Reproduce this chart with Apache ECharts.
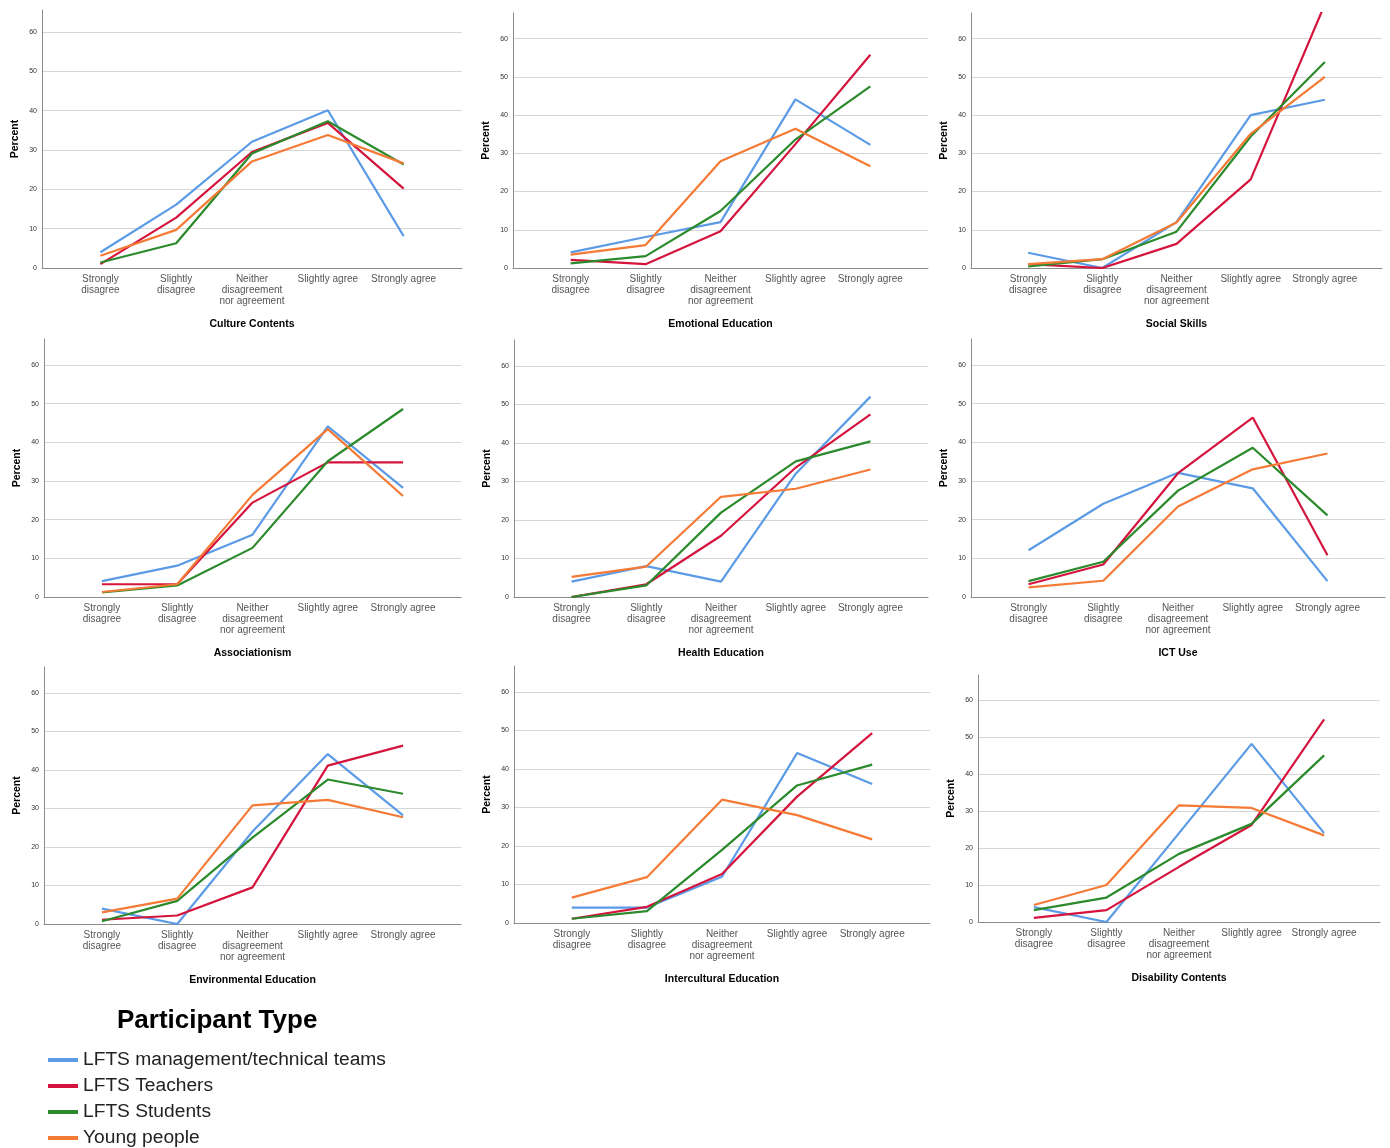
<!DOCTYPE html>
<html>
<head>
<meta charset="utf-8">
<script src="https://cdn.jsdelivr.net/npm/echarts@6/dist/echarts.min.js"></script>
<style>
html,body{margin:0;padding:0;background:#fff;}
#chart{width:1390px;height:1148px;}
</style>
</head>
<body>
<div id="chart"></div>
<script>
// ---- Data ----
const categories = ['Strongly\ndisagree', 'Slightly\ndisagree', 'Neither\ndisagreement\nnor agreement', 'Slightly agree', 'Strongly agree'];
const groups = ['LFTS management/technical teams', 'LFTS Teachers', 'LFTS Students', 'Young people'];
const yTicks = [0, 10, 20, 30, 40, 50, 60];
const panelTitles = ['Culture Contents', 'Emotional Education', 'Social Skills', 'Associationism', 'Health Education', 'ICT Use', 'Environmental Education', 'Intercultural Education', 'Disability Contents'];

// rows: management, teachers, students, young people
const cultureContents = [
  [4.0, 16.1, 32.1, 40.1, 8.1],
  [1.0, 12.8, 29.5, 36.9, 20.2],
  [1.4, 6.3, 29.1, 37.3, 26.3],
  [3.1, 9.7, 27.1, 33.8, 26.6]
];
const emotionalEducation = [
  [4.1, 8.1, 12.0, 44.1, 32.2],
  [2.1, 1.0, 9.6, 32.4, 55.8],
  [1.2, 3.1, 14.9, 33.6, 47.5],
  [3.5, 6.0, 27.9, 36.4, 26.6]
];
const socialSkills = [
  [4.0, 0.0, 12.0, 40.0, 44.0],
  [1.0, 0.0, 6.3, 23.2, 69.0],
  [0.4, 2.3, 9.5, 34.4, 53.9],
  [1.0, 2.3, 11.9, 35.1, 50.0]
];
const associationism = [
  [4.1, 8.1, 16.1, 44.1, 28.2],
  [3.3, 3.3, 24.4, 34.8, 34.8],
  [1.2, 3.0, 12.7, 35.1, 48.6],
  [1.3, 3.3, 26.4, 43.4, 26.1]
];
const healthEducation = [
  [4.0, 8.0, 4.0, 32.0, 52.0],
  [0.0, 3.3, 15.9, 33.6, 47.4],
  [0.0, 3.0, 21.9, 35.2, 40.4],
  [5.2, 7.9, 26.0, 28.1, 33.1]
];
const ictUse = [
  [12.1, 24.1, 32.1, 28.1, 4.1],
  [3.3, 8.4, 32.0, 46.4, 10.8],
  [4.1, 9.1, 27.5, 38.6, 21.1],
  [2.5, 4.2, 23.4, 33.0, 37.1]
];
const environmentalEducation = [
  [4.0, 0.0, 24.0, 44.1, 28.2],
  [1.1, 2.2, 9.5, 41.1, 46.3],
  [0.7, 6.0, 22.4, 37.5, 33.8],
  [3.0, 6.6, 30.8, 32.2, 27.7]
];
const interculturalEducation = [
  [4.0, 4.0, 12.0, 44.1, 36.1],
  [1.1, 4.2, 12.7, 32.8, 49.3],
  [1.1, 3.1, 19.0, 35.7, 41.1],
  [6.6, 11.9, 32.0, 28.0, 21.7]
];
const disabilityContents = [
  [4.0, 0.0, 24.0, 48.1, 24.0],
  [1.1, 3.2, 14.9, 26.2, 54.7],
  [3.2, 6.6, 18.4, 26.5, 45.0],
  [4.6, 10.0, 31.5, 30.8, 23.4]
];
const panelData = [cultureContents, emotionalEducation, socialSkills, associationism, healthEducation, ictUse, environmentalEducation, interculturalEducation, disabilityContents];
const yMaxes = [65.6, 66.7, 66.7, 66.7, 66.7, 66.7, 66.7, 66.7, 66.7];

// ---- Layout / style ----
const colors = ['#5b9be6', '#d5143e', '#2b8a2b', '#f47a36'];
const panelBoxes = [
  [42, 10, 462, 268], [513, 13, 928, 268], [971, 13, 1382, 268],
  [44, 339, 461, 597], [514, 340, 928, 597], [971, 339, 1385, 597],
  [44, 667, 461, 924], [514, 666, 930, 923], [978, 675, 1380, 922]
];
const xPad = 0.77;
const FONT = '"Liberation Sans", Arial, sans-serif';

const grids = [], xAxes = [], yAxes = [], series = [];
panelBoxes.forEach((b, i) => {
  grids.push({left: b[0], top: b[1], width: b[2] - b[0], height: b[3] - b[1], containLabel: false});
  xAxes.push({
    type: 'value', gridIndex: i, min: -xPad, max: categories.length - 1 + xPad,
    name: panelTitles[i], nameLocation: 'middle', nameGap: 51,
    nameTextStyle: {fontFamily: FONT, fontSize: 10.5, fontWeight: 'bold', color: '#000'},
    axisLine: {show: true, onZero: false, lineStyle: {color: '#8c8c8c', width: 1}},
    axisTick: {show: false, customValues: categories.map((c, j) => j)},
    splitLine: {show: false},
    axisLabel: {
      customValues: categories.map((c, j) => j),
      formatter: v => categories[Math.round(v)],
      fontFamily: FONT, fontSize: 10, lineHeight: 11, color: '#555', margin: 6
    }
  });
  yAxes.push({
    type: 'value', gridIndex: i, min: 0, max: yMaxes[i],
    name: 'Percent', nameLocation: 'middle', nameGap: 21,
    nameTextStyle: {fontFamily: FONT, fontSize: 10.5, fontWeight: 'bold', color: '#000'},
    axisLine: {show: true, onZero: false, lineStyle: {color: '#8c8c8c', width: 1}},
    axisTick: {show: false, customValues: yTicks},
    axisLabel: {customValues: yTicks, fontFamily: FONT, fontSize: 7, color: '#333', margin: 5},
    splitLine: {show: true, lineStyle: {color: '#d6d6d6', width: 1.2}}
  });
  panelData[i].forEach((row, g) => {
    series.push({
      name: groups[g], type: 'line', xAxisIndex: i, yAxisIndex: i,
      data: row.map((v, j) => [j, v]),
      showSymbol: false, symbol: 'none', clip: true,
      lineStyle: {color: colors[g], width: 2.2},
      itemStyle: {color: colors[g]},
      z: 2
    });
  });
});

const chart = echarts.init(document.getElementById('chart'));
chart.setOption({
  animation: false,
  backgroundColor: '#fff',
  color: colors,
  title: {
    text: 'Participant Type', left: 117, top: 1008, padding: 0,
    textStyle: {fontFamily: FONT, fontSize: 26, fontWeight: 'bold', color: '#000'}
  },
  legend: {
    data: groups, orient: 'vertical', left: 48, top: 1050, padding: 0,
    icon: 'rect', itemWidth: 30, itemHeight: 4, itemGap: 6,
    textStyle: {fontFamily: FONT, fontSize: 19.2, lineHeight: 20, color: '#222'}
  },
  grid: grids, xAxis: xAxes, yAxis: yAxes, series: series
});
</script>
</body>
</html>
